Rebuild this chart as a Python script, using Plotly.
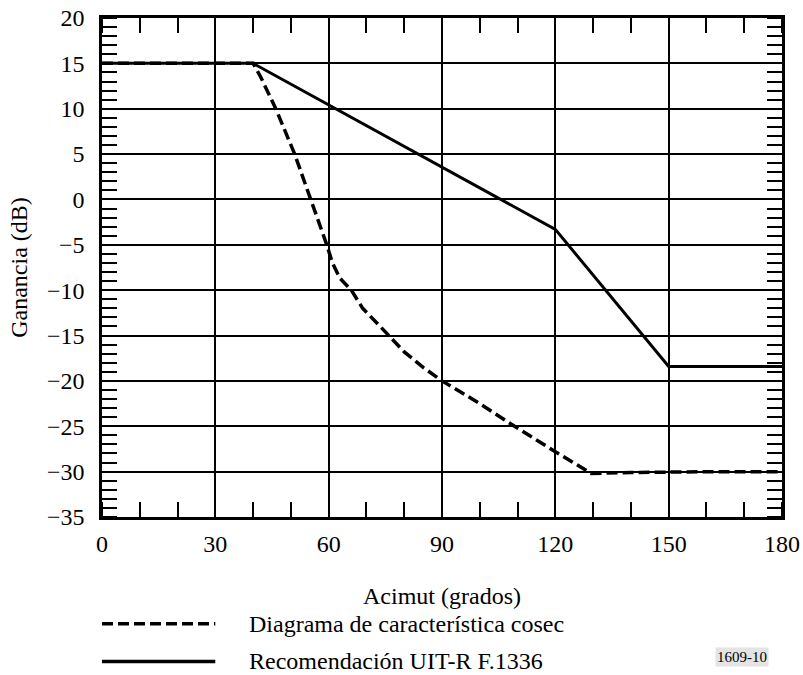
import plotly.graph_objects as go

# ---- data ----
cosec_az = [0, 40, 42, 46, 51, 55.3, 59.5, 61, 63, 66, 69, 72.5, 75.8, 80, 85, 90,
            100, 109.2, 120, 125, 129.5, 140, 160, 180]
cosec_gain = [15, 15, 13.5, 10, 5, 0, -5, -7, -8.7, -10, -12, -13.5, -15, -16.8, -18.5, -20,
              -22.5, -25, -27.8, -29.1, -30.2, -30.1, -30, -30]
f1336_az = [0, 40, 120, 150, 180]
f1336_gain = [15, 15, -3.3, -18.4, -18.4]

x_ticks = [0, 30, 60, 90, 120, 150, 180]
y_ticks = [20, 15, 10, 5, 0, -5, -10, -15, -20, -25, -30, -35]

name_cosec = "Diagrama de característica cosec"
name_f1336 = "Recomendación UIT-R F.1336"
x_title = "Acimut (grados)"
y_title = "Ganancia (dB)"
fig_id = "1609-10"

FONT = '"Liberation Serif", "Times New Roman", serif'
W, H = 803, 675
L, R, T, B = 101.7, 21.3, 18.3, 157.7
pw, ph = W - L - R, H - T - B

def px(x):
    return (x - L) / pw

def py(y):
    return (H - B - y) / ph

DASH = "11px,5px"

fig = go.Figure()
# invisible trace that attaches the overlay axes (top/right mirrored minor ticks)
fig.add_trace(go.Scatter(x=f1336_az, y=f1336_gain, xaxis="x2", yaxis="y2", mode="lines",
                         line=dict(color="rgba(0,0,0,0)", width=0), hoverinfo="skip",
                         showlegend=False))
fig.add_trace(go.Scatter(x=cosec_az, y=cosec_gain, mode="lines", name=name_cosec,
                         line=dict(color="black", width=3.5, dash=DASH),
                         showlegend=False))
fig.add_trace(go.Scatter(x=f1336_az, y=f1336_gain, mode="lines", name=name_f1336,
                         line=dict(color="black", width=3),
                         showlegend=False))

tickfont = dict(family=FONT, size=24, color="black")
axis_common = dict(showline=True, linecolor="black", linewidth=2.5, mirror=True,
                   showgrid=True, gridcolor="black", gridwidth=2, zeroline=False,
                   ticks="", tickfont=tickfont, automargin=False)

xminor = dict(dtick=10, tick0=0, ticks="inside", ticklen=15, tickwidth=2,
              tickcolor="black", showgrid=False)
yminor = dict(dtick=1, tick0=0, ticks="inside", ticklen=15, tickwidth=2,
              tickcolor="black", showgrid=False)

ylabels = [("\u2212" + str(-v)) if v < 0 else str(v) for v in y_ticks]

fig.update_layout(
    xaxis=dict(range=[0, 180], tickvals=x_ticks, ticktext=[str(v) for v in x_ticks],
               minor=xminor, ticklabelstandoff=3, **axis_common),
    yaxis=dict(range=[-35, 20], tickvals=y_ticks, ticktext=ylabels,
               minor=yminor, ticklabelstandoff=10, **axis_common),
    # overlay axes to draw the mirrored minor ticks on top and right
    xaxis2=dict(range=[0, 180], overlaying="x", side="top", anchor="y2",
                showline=False, showgrid=False, zeroline=False, showticklabels=False,
                ticks="", tickvals=x_ticks, minor=xminor, automargin=False),
    yaxis2=dict(range=[-35, 20], overlaying="y", side="right", anchor="x2",
                showline=False, showgrid=False, zeroline=False, showticklabels=False,
                ticks="", tickvals=y_ticks, minor=yminor, automargin=False),
)

# axis titles
fig.add_annotation(xref="paper", yref="paper", x=0.5, y=py(596), text=x_title,
                   showarrow=False, xanchor="center", yanchor="middle",
                   font=dict(family=FONT, size=24, color="black"))
fig.add_annotation(xref="paper", yref="paper", x=px(18), y=0.5, text=y_title,
                   textangle=-90, showarrow=False, xanchor="center", yanchor="middle",
                   font=dict(family=FONT, size=24, color="black"))

# legend drawn manually (long samples as in the reference)
leg = [(name_cosec, DASH, 624), (name_f1336, "solid", 661.7)]
for label, dash, ypix in leg:
    fig.add_shape(type="line", xref="paper", yref="paper",
                  x0=px(101.7), x1=px(215), y0=py(ypix), y1=py(ypix),
                  line=dict(color="black", width=3.5, dash=dash))
    fig.add_annotation(xref="paper", yref="paper", x=px(246.7), y=py(ypix),
                       text=label, showarrow=False, xanchor="left", yanchor="middle",
                       font=dict(family=FONT, size=24, color="black"))

fig.add_annotation(xref="paper", yref="paper", x=px(742), y=py(657), text=fig_id,
                   showarrow=False, xanchor="center", yanchor="middle",
                   bgcolor="#e4e4e4", borderpad=1,
                   font=dict(family=FONT, size=15, color="black"))

fig.update_layout(width=W, height=H, margin=dict(l=L, r=R, t=T, b=B, autoexpand=False),
                  plot_bgcolor="white", paper_bgcolor="white", showlegend=False)

fig.write_html("out.html")
